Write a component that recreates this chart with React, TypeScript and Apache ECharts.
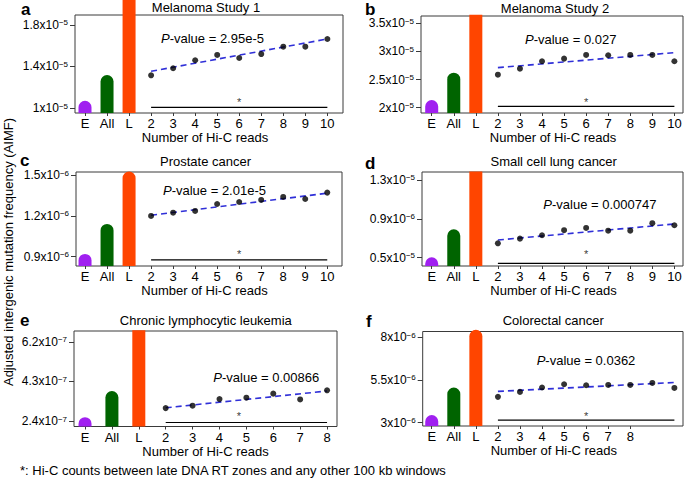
import React, { useEffect, useRef } from 'react';
import * as echarts from 'echarts';

const FONT = '"Liberation Sans", Arial, Helvetica, sans-serif';

// ---------- shared texts ----------
const yTitle = 'Adjusted intergenic mutation frequency (AIMF)';
const footnote = '*: Hi-C counts between late DNA RT zones and any other 100 kb windows';
const xName = 'Number of Hi-C reads';
const groupLabels = ['E', 'All', 'L'];
const panelLetters = ['a', 'b', 'c', 'd', 'e', 'f'];

// ---------- panel a ----------
const aTitle = 'Melanoma Study 1';
const aGroupValues = [1.07e-5, 1.318e-5, 2.04e-5];
const aHicLabels = ['2', '3', '4', '5', '6', '7', '8', '9', '10'];
const aHicValues = [1.315e-5, 1.383e-5, 1.46e-5, 1.511e-5, 1.482e-5, 1.52e-5, 1.591e-5, 1.591e-5, 1.665e-5];
const aTrend = [1.354e-5, 1.665e-5];
const aStarLine = 1.007e-5;
const aStarPoint = [8, 1.06e-5];
const aPValue = '2.95e-5';
const aYTicks = [1e-5, 1.4e-5, 1.8e-5];
const aYTickLabels = ['1x10^−5', '1.4x10^−5', '1.8x10^−5'];

// ---------- panel b ----------
const bTitle = 'Melanoma Study 2';
const bGroupValues = [2.137e-5, 2.623e-5, 3.65e-5];
const bHicLabels = ['2', '3', '4', '5', '6', '7', '8', '9', '10'];
const bHicValues = [2.587e-5, 2.694e-5, 2.826e-5, 2.872e-5, 2.938e-5, 2.932e-5, 2.938e-5, 2.938e-5, 2.826e-5];
const bTrend = [2.712e-5, 2.979e-5];
const bStarLine = 2.025e-5;
const bStarPoint = [8, 2.105e-5];
const bPValue = '0.027';
const bYTicks = [2e-5, 2.5e-5, 3e-5, 3.5e-5];
const bYTickLabels = ['2x10^−5', '2.5x10^−5', '3x10^−5', '3.5x10^−5'];

// ---------- panel c ----------
const cTitle = 'Prostate cancer';
const cGroupValues = [0.92e-6, 1.141e-6, 1.527e-6];
const cHicLabels = ['2', '3', '4', '5', '6', '7', '8', '9', '10'];
const cHicValues = [1.2e-6, 1.224e-6, 1.237e-6, 1.288e-6, 1.303e-6, 1.318e-6, 1.34e-6, 1.325e-6, 1.372e-6];
const cTrend = [1.205e-6, 1.368e-6];
const cStarLine = 0.876e-6;
const cStarPoint = [8, 0.916e-6];
const cPValue = '2.01e-5';
const cYTicks = [0.9e-6, 1.2e-6, 1.5e-6];
const cYTickLabels = ['0.9x10^−6', '1.2x10^−6', '1.5x10^−6'];

// ---------- panel d ----------
const dTitle = 'Small cell lung cancer';
const dGroupValues = [0.504e-5, 0.793e-5, 1.386e-5];
const dHicLabels = ['2', '3', '4', '5', '6', '7', '8', '9', '10'];
const dHicValues = [0.648e-5, 0.696e-5, 0.731e-5, 0.783e-5, 0.806e-5, 0.778e-5, 0.778e-5, 0.855e-5, 0.834e-5];
const dTrend = [0.682e-5, 0.847e-5];
const dStarLine = 0.442e-5;
const dStarPoint = [8, 0.536e-5];
const dPValue = '0.000747';
const dYTicks = [0.5e-5, 0.9e-5, 1.3e-5];
const dYTickLabels = ['0.5x10^−5', '0.9x10^−6', '1.3x10^−5'];

// ---------- panel e ----------
const eTitle = 'Chronic lymphocytic leukemia';
const eGroupValues = [2.592e-7, 3.843e-7, 6.75e-7];
const eHicLabels = ['2', '3', '4', '5', '6', '7', '8'];
const eHicValues = [3.025e-7, 3.14e-7, 3.458e-7, 3.525e-7, 3.718e-7, 3.44e-7, 3.877e-7];
const eTrend = [3.04e-7, 3.843e-7];
const eStarLine = 2.337e-7;
const eStarPoint = [6.72, 2.636e-7];
const ePValue = '0.00866';
const eYTicks = [2.4e-7, 4.3e-7, 6.2e-7];
const eYTickLabels = ['2.4x10^−7', '4.3x10^−7', '6.2x10^−7'];

// ---------- panel f ----------
const fTitle = 'Colorectal cancer';
const fGroupValues = [3.448e-6, 5.058e-6, 8.43e-6];
const fHicLabels = ['2', '3', '4', '5', '6', '7', '8', '', ''];
const fHicValues = [4.512e-6, 4.802e-6, 5.058e-6, 5.25e-6, 5.19e-6, 5.21e-6, 5.21e-6, 5.326e-6, 5.035e-6];
const fTrend = [4.83e-6, 5.35e-6];
const fStarLine = 3.157e-6;
const fStarPoint = [8, 3.4e-6];
const fPValue = '0.0362';
const fYTicks = [3e-6, 5.5e-6, 8e-6];
const fYTickLabels = ['3x10^−6', '5.5x10^−6', '8x10^−6'];

// ---------- styling / layout ----------
const groupColors = ['#A020F0', '#006400', '#FF4500'];

const panels = [
  { title: aTitle, groups: aGroupValues, hicLabels: aHicLabels, hic: aHicValues, trend: aTrend, starLine: aStarLine, star: aStarPoint, p: aPValue, yTicks: aYTicks, yTickLabels: aYTickLabels },
  { title: bTitle, groups: bGroupValues, hicLabels: bHicLabels, hic: bHicValues, trend: bTrend, starLine: bStarLine, star: bStarPoint, p: bPValue, yTicks: bYTicks, yTickLabels: bYTickLabels },
  { title: cTitle, groups: cGroupValues, hicLabels: cHicLabels, hic: cHicValues, trend: cTrend, starLine: cStarLine, star: cStarPoint, p: cPValue, yTicks: cYTicks, yTickLabels: cYTickLabels },
  { title: dTitle, groups: dGroupValues, hicLabels: dHicLabels, hic: dHicValues, trend: dTrend, starLine: dStarLine, star: dStarPoint, p: dPValue, yTicks: dYTicks, yTickLabels: dYTickLabels },
  { title: eTitle, groups: eGroupValues, hicLabels: eHicLabels, hic: eHicValues, trend: eTrend, starLine: eStarLine, star: eStarPoint, p: ePValue, yTicks: eYTicks, yTickLabels: eYTickLabels },
  { title: fTitle, groups: fGroupValues, hicLabels: fHicLabels, hic: fHicValues, trend: fTrend, starLine: fStarLine, star: fStarPoint, p: fPValue, yTicks: fYTicks, yTickLabels: fYTickLabels },
];

const layouts = [
  { left: 75, top: 15, width: 268, height: 98, xMin: 0.546, xMax: 12.71, yMin: 0.952e-5, yMax: 1.896e-5, letterX: 21, letterY: 9, titleX: 206, titleY: 7, pX: 161, pY: 38, lFlat: true, nameShift: 4 },
  { left: 421, top: 16, width: 262, height: 97, xMin: 0.515, xMax: 12.39, yMin: 1.906e-5, yMax: 3.63e-5, letterX: 365, letterY: 9, titleX: 555, titleY: 8, pX: 525, pY: 39.3, lFlat: true, nameShift: -1 },
  { left: 76, top: 172, width: 266, height: 94, xMin: 0.59, xMax: 12.67, yMin: 0.831e-6, yMax: 1.524e-6, letterX: 20, letterY: 160, titleX: 205.5, titleY: 161.5, pX: 163, pY: 190.7, lFlat: false, nameShift: 4.5 },
  { left: 422, top: 172, width: 261, height: 94, xMin: 0.56, xMax: 12.39, yMin: 0.4145e-5, yMax: 1.382e-5, letterX: 365, letterY: 163, titleX: 553.7, titleY: 161.5, pX: 543.3, pY: 204, lFlat: true, nameShift: -1 },
  { left: 74, top: 331, width: 263, height: 95.5, xMin: 0.59, xMax: 10.37, yMin: 2.145e-7, yMax: 6.715e-7, letterX: 20, letterY: 320, titleX: 205.8, titleY: 320, pX: 213.3, pY: 377.3, lFlat: true, nameShift: 0 },
  { left: 422.7, top: 331.5, width: 260.3, height: 94.5, xMin: 0.59, xMax: 12.39, yMin: 2.81e-6, yMax: 8.33e-6, letterX: 366, letterY: 321, titleX: 553.3, titleY: 320, pX: 536.7, pY: 360.7, lFlat: false, nameShift: -1 },
];

function buildOption() {
  const grid: any[] = [];
  const xAxis: any[] = [];
  const yAxis: any[] = [];
  const series: any[] = [];
  const graphic: any[] = [];

  panels.forEach((p, i) => {
    const L = layouts[i];
    const xLabels = [...groupLabels, ...p.hicLabels];
    const labeledPositions = xLabels.map((s, k) => (s ? k + 1 : null)).filter((v) => v !== null);
    const lastPos = groupLabels.length + p.hic.length;

    grid.push({
      left: L.left, top: L.top, width: L.width, height: L.height,
      show: true, borderColor: '#3a3a3a', borderWidth: 1, backgroundColor: 'transparent',
      containLabel: false, outerBoundsMode: 'none',
    });

    xAxis.push({
      type: 'value', gridIndex: i, min: L.xMin, max: L.xMax,
      axisLine: { show: false },
      splitLine: { show: false },
      axisTick: { show: true, customValues: labeledPositions, length: 3, lineStyle: { color: '#3a3a3a', width: 1 } },
      axisLabel: {
        customValues: labeledPositions,
        formatter: (v: number) => xLabels[Math.round(v) - 1] ?? '',
        margin: 4, fontSize: 13, color: '#000', fontFamily: FONT,
      },
      name: xName, nameLocation: 'middle', nameGap: 18,
      nameTextStyle: { fontSize: 13, color: '#000', fontFamily: FONT, padding: [0, Math.max(0, 2 * L.nameShift), 0, Math.max(0, -2 * L.nameShift)] },
    });

    yAxis.push({
      type: 'value', gridIndex: i, min: L.yMin, max: L.yMax,
      axisLine: { show: false },
      splitLine: { show: false },
      axisTick: { show: true, customValues: p.yTicks, length: 5, lineStyle: { color: '#3a3a3a', width: 1 } },
      axisLabel: {
        customValues: p.yTicks,
        formatter: (v: number) => {
          let best = 0;
          p.yTicks.forEach((t, k) => { if (Math.abs(t - v) < Math.abs(p.yTicks[best] - v)) best = k; });
          const [base, exp] = p.yTickLabels[best].split('^');
          return `${base}{sup|${exp}}`;
        },
        margin: 7, fontSize: 12, lineHeight: 12, color: '#000', fontFamily: FONT,
        rich: { sup: { fontSize: 8, lineHeight: 6, verticalAlign: 'top', color: '#000', fontFamily: FONT } },
      },
    });

    // E / All / L rounded bars
    series.push({
      type: 'custom', xAxisIndex: i, yAxisIndex: i, clip: false, silent: true,
      data: p.groups.map((v, k) => [k + 1, v, k]),
      encode: { x: 0, y: 1 },
      renderItem: (params: any, api: any) => {
        const x = api.value(0);
        const v = api.value(1);
        const k = api.value(2);
        const base = api.coord([x, L.yMin]);
        const top = api.coord([x, v]);
        const w = 13;
        const flat = k === 2 && L.lFlat;
        return {
          type: 'rect',
          shape: { x: top[0] - w / 2, y: top[1], width: w, height: base[1] - top[1], r: flat ? 0 : [w / 2, w / 2, 0, 0] },
          style: { fill: groupColors[k] },
        };
      },
    });

    // Trend line
    series.push({
      type: 'line', xAxisIndex: i, yAxisIndex: i, silent: true, symbol: 'none', z: 3,
      data: [[groupLabels.length + 1, p.trend[0]], [lastPos, p.trend[1]]],
      lineStyle: { color: '#3030d8', width: 1.6, type: [6, 4] },
    });

    // Hi-C points
    series.push({
      type: 'scatter', xAxisIndex: i, yAxisIndex: i, silent: true, symbol: 'circle', symbolSize: 6, z: 4,
      data: p.hic.map((v, k) => [groupLabels.length + 1 + k, v]),
      itemStyle: { color: '#000' },
    });

    // Horizontal bracket line
    series.push({
      type: 'line', xAxisIndex: i, yAxisIndex: i, silent: true, symbol: 'none', z: 3,
      data: [[groupLabels.length + 1, p.starLine], [lastPos, p.starLine]],
      lineStyle: { color: '#000', width: 1.2 },
    });

    // Asterisk
    series.push({
      type: 'scatter', xAxisIndex: i, yAxisIndex: i, silent: true, symbolSize: 0, z: 4,
      data: [p.star],
      itemStyle: { color: '#000' },
      label: { show: true, position: 'inside', formatter: '*', fontSize: 11, color: '#000', textBorderWidth: 0, fontFamily: FONT },
    });

    graphic.push({
      type: 'text', x: L.letterX, y: L.letterY,
      style: { text: panelLetters[i], font: `bold 17px ${FONT}`, lineHeight: 17, fill: '#000', textAlign: 'left', textVerticalAlign: 'middle' },
    });
    graphic.push({
      type: 'text', x: L.titleX, y: L.titleY,
      style: { text: p.title, font: `13px ${FONT}`, fill: '#000', textAlign: 'center', textVerticalAlign: 'middle' },
    });
    graphic.push({
      type: 'text', x: L.pX, y: L.pY,
      style: {
        text: `{i|P}-value = ${p.p}`, font: `13px ${FONT}`, fill: '#000', textAlign: 'left', textVerticalAlign: 'middle',
        rich: { i: { fontStyle: 'italic', fontSize: 13, fontFamily: FONT, fill: '#000' } },
      },
    });
  });

  graphic.push({
    type: 'text', x: 8, y: 252, rotation: Math.PI / 2,
    style: { text: yTitle, font: `13px ${FONT}`, fill: '#000', textAlign: 'center', textVerticalAlign: 'middle' },
  });
  graphic.push({
    type: 'text', x: 20, y: 470,
    style: { text: footnote, font: `13px ${FONT}`, fill: '#000', textAlign: 'left', textVerticalAlign: 'middle' },
  });

  return { animation: false, backgroundColor: '#fff', grid, xAxis, yAxis, series, graphic };
}

export default function App() {
  const ref = useRef<HTMLDivElement>(null);
  useEffect(() => {
    if (!ref.current) return;
    const chart = echarts.init(ref.current, null, { renderer: 'svg' });
    chart.setOption(buildOption() as any);
    return () => chart.dispose();
  }, []);
  return <div ref={ref} style={{ position: 'fixed', left: 0, top: 0, width: 685, height: 480 }} />;
}
